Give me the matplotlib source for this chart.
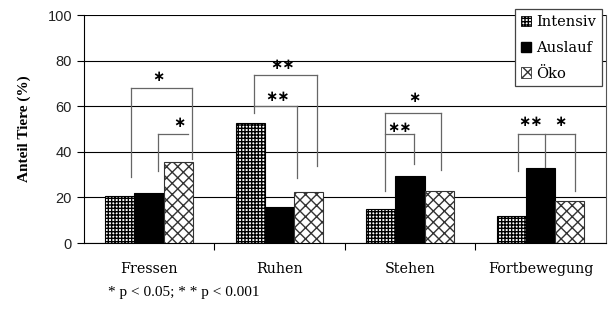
import numpy as np
import matplotlib.pyplot as plt
from matplotlib.patches import Patch

# Daten
kategorien = ['Fressen', 'Ruhen', 'Stehen', 'Fortbewegung']
intensiv = [20.6, 52.6, 15.0, 11.8]
auslauf = [21.9, 15.8, 29.4, 33.0]
oeko = [35.5, 22.3, 22.8, 18.5]
gruppen = ['Intensiv', 'Auslauf', 'Öko']

# Signifikanz-Klammern: (Kategorie, x links, x rechts, Höhe, y links, y rechts, Text, x Text, y Text)
klammern = [
    (0, -0.14, 0.33, 68, 29, 37, '*', 0.07, 73),
    (0, 0.065, 0.30, 48, 31.5, None, '*', 0.23, 53),
    (1, -0.195, 0.29, 73.5, 57, 34, '**', 0.025, 78.5),
    (1, -0.195, 0.135, 60, None, 28.5, '**', -0.02, 64.5),
    (2, -0.19, 0.24, 57, 23, 32, '*', 0.03, 64),
    (2, -0.19, 0.03, 48, None, 34.5, '**', -0.08, 50.5),
    (3, -0.17, 0.26, 48, 31.5, 23, '**', -0.08, 53.5),
    (3, 0.035, 0.035, 48, None, 33.5, '*', 0.15, 53.5),
]

serif = 'Liberation Serif'
breit = 'DejaVu Serif'
sans = 'Liberation Sans'

fig = plt.figure(figsize=(6.12, 3.28), dpi=100)
ax = fig.add_axes([0.137, 0.259, 0.853, 0.695])

x = np.arange(len(kategorien))
b = 0.224
ax.bar(x - b, intensiv, b, color='white', edgecolor='black', hatch='+++++', linewidth=0.8, zorder=3)
ax.bar(x, auslauf, b, color='black', edgecolor='black', linewidth=0.8, zorder=3)
ax.bar(x + b, oeko, b, color='white', edgecolor='#333333', hatch='xxx', linewidth=0.8, zorder=3)

grau = '#666666'
for k, xl, xr, h, yl, yr, txt, xt, yt in klammern:
    ax.plot([k + xl, k + xr], [h, h], color=grau, lw=0.9, zorder=4)
    if yl is not None:
        ax.plot([k + xl, k + xl], [yl, h], color=grau, lw=0.9, zorder=4)
    if yr is not None:
        ax.plot([k + xr, k + xr], [yr, h], color=grau, lw=0.9, zorder=4)
    ax.text(k + xt, yt, txt.replace('*', '\u2217'), ha='center', va='center',
            fontsize=10.5, family='DejaVu Sans', fontweight='bold', zorder=5)

ax.set_xlim(-0.5, 3.5)
ax.set_ylim(0, 100)
ax.set_yticks(np.arange(0, 101, 20))
ax.yaxis.grid(True, color='black', linewidth=0.8, zorder=0)
ax.set_axisbelow(True)
for lbl in ax.get_yticklabels():
    lbl.set_family(sans)
    lbl.set_fontsize(10.5)
    lbl.set_color('#222222')

ax.set_xticks(x)
ax.set_xticklabels(kategorien, family=breit, fontsize=10.3)
ax.set_xticks([0.5, 1.5, 2.5], minor=True)
ax.tick_params(axis='x', which='major', length=0, pad=14)
ax.tick_params(axis='x', which='minor', length=5, direction='out', width=0.8)
ax.tick_params(axis='y', length=5, direction='out', width=0.8)

ax.spines['top'].set_visible(False)
for s in ['left', 'bottom', 'right']:
    ax.spines[s].set_linewidth(0.8)
ax.spines['right'].set_color('#555555')

ax.set_ylabel('Anteil Tiere (%)', family=serif, fontsize=11, fontweight='bold', labelpad=12)

handles = [
    Patch(facecolor='white', edgecolor='black', hatch='+++++', linewidth=0.6),
    Patch(facecolor='black', edgecolor='black'),
    Patch(facecolor='white', edgecolor='#333333', hatch='xxx', linewidth=0.6),
]
leg = ax.legend(handles, gruppen, loc='upper right', bbox_to_anchor=(0.993, 1.025),
                prop={'family': breit, 'size': 10.5}, fancybox=False, frameon=True,
                edgecolor='#444444', framealpha=1, handlelength=0.7, handleheight=0.7,
                handletextpad=0.35, borderpad=0.4, labelspacing=0.8, borderaxespad=0)
leg.get_frame().set_linewidth(0.9)
leg.set_zorder(6)

fig.text(0.176, 0.107, '* p < 0.05; * * p < 0.001', family=serif, fontsize=11, va='center')

fig.savefig('out.png', dpi=100)
